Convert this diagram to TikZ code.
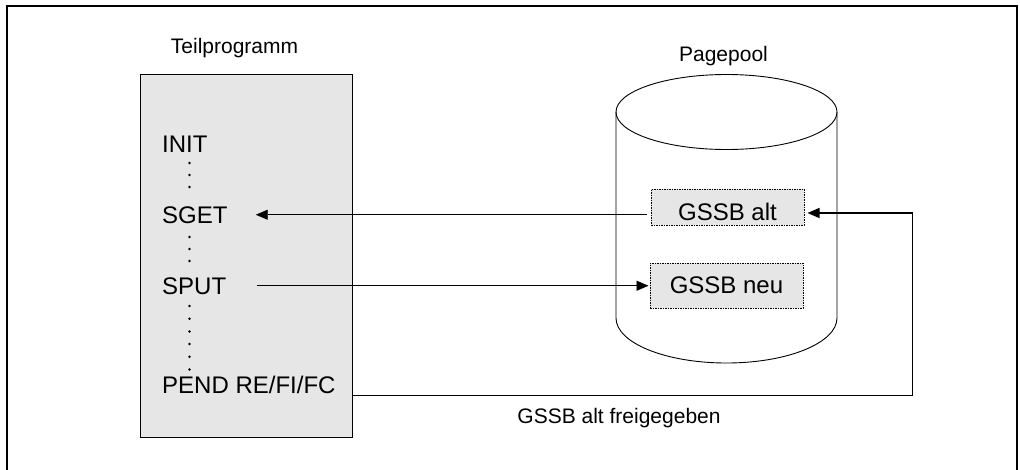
\documentclass[tikz,border=0pt]{standalone}
\usepackage{fontspec}
\setmainfont{Liberation Sans}
\usetikzlibrary{arrows.meta}
\definecolor{boxgray}{HTML}{E6E6E6}
\begin{document}
\begin{tikzpicture}[x=1pt,y=-1pt,
  lbl/.style={font=\fontsize{21}{25}\selectfont, inner sep=0pt},
  code/.style={font=\fontsize{24}{28}\selectfont, inner sep=0pt, anchor=base west},
  gssb/.style={draw, fill=boxgray, line width=1pt, dash pattern=on 1.5pt off 1pt,
    inner sep=0pt, minimum width=153pt, font=\fontsize{24}{28}\selectfont},
  conn/.style={line width=0.9pt},
  arr/.style={conn, -{Triangle[length=12pt,width=10pt]}},
  dotc/.style={fill=black, radius=1.4pt}]
\useasboundingbox (0,0) rectangle (1020,469);
% outer frame (bottom edge outside the picture)
\draw[line width=1.2pt] (7,480) -- (7,6) -- (1017,6) -- (1017,480);

% titles
\node[lbl, anchor=base] (tp) at (234.5,53) {Teilprogramm};
\node[lbl, anchor=base] (pp) at (723.5,61) {Pagepool};

% program box
\node[draw, fill=boxgray, line width=1pt, minimum width=212pt, minimum height=363pt,
      anchor=north west, inner sep=0pt] (prog) at (140,74) {};
\node[code] (init) at (162,152) {INIT};
\node[code] (sget) at (162,223) {SGET};
\node[code] (sput) at (162,294) {SPUT};
\node[code] (pend) at (162,393) {PEND RE/FI/FC};
\foreach \y in {163,175,187,237,249,261,306,318.7,331.4,344,356.7,369.4}
  \fill[dotc] (189.5,\y) circle;

% cylinder
\draw[line width=0.9pt] (616,112) -- (616,318)
  arc[start angle=180, end angle=360, x radius=110.5pt, y radius=45pt] -- (837,112);
\draw[line width=0.9pt] (726.5,112) ellipse [x radius=110.5pt, y radius=37.5pt];

% GSSB boxes
\node[gssb, text height=31pt, text depth=5pt, anchor=base] (alt) at (727.5,220) {GSSB alt};
\node[gssb, text height=30pt, text depth=15pt, anchor=base] (neu) at (726.5,293) {GSSB neu};

% connectors
\draw[arr] ([xshift=-4pt]alt.west |- sget.east) -- ([xshift=28pt]sget.east);
\draw[arr] ([xshift=31pt]sput.east) -- ([xshift=-1pt]neu.west |- sput.east);
\coordinate (turn) at (912.5,213);
\draw[conn] ([yshift=-2pt]pend.base -| prog.east) -| (turn);
\draw[arr, line width=1.6pt] (turn) -- ([xshift=3pt]alt.east |- turn);

\node[lbl, anchor=base] (frei) at (619,423) {GSSB alt freigegeben};
\end{tikzpicture}
\end{document}
